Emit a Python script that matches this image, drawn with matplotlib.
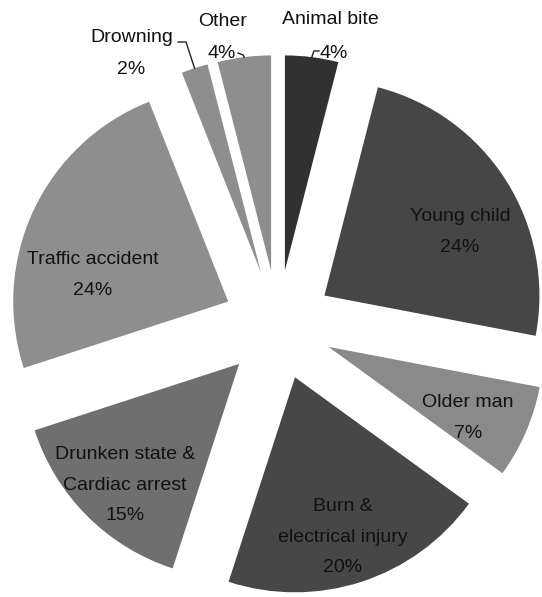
import numpy as np
import matplotlib
matplotlib.use("Agg")
import matplotlib.pyplot as plt

# ── data ──
labels = ["Animal bite", "Young child", "Older man", "Burn &\nelectrical injury",
          "Drunken state &\nCardiac arrest", "Traffic accident", "Drowning", "Other"]
values = [4, 24, 7, 20, 15, 24, 2, 4]
colors = ["#313131", "#464646", "#8a8a8a", "#474747", "#6f6f6f", "#8e8e8e", "#8e8e8e", "#8e8e8e"]

plt.rcParams['font.family'] = ['Liberation Sans', 'DejaVu Sans']
FS = 14

# pixel-like units: radius 215 px, every slice pulled out by 55 px
R, EXPL = 215, 55
fig = plt.figure(figsize=(5.42, 5.97), dpi=100)
ax = fig.add_axes([0, 0, 1, 1])
wedges, _ = ax.pie(values, colors=colors, radius=R, explode=[EXPL] * len(values),
                   startangle=90, counterclock=False, wedgeprops=dict(linewidth=0))
ax.set_xlim(-278, 264); ax.set_ylim(-272, 325)
ax.set_aspect('equal'); ax.axis('off')

pct = [f"{v}%" for v in values]

# inside labels (label text centre, relative to pie centre)
inside = {1: (182, 93), 2: (190, -93), 3: (65, -212), 4: (-153, -160), 5: (-185, 50)}
for i, (x, y) in inside.items():
    ax.text(x, y, f"{labels[i]}\n{pct[i]}", ha='center', va='center', fontsize=FS,
            linespacing=2.05, color='#111111')

def tip(i):
    w = wedges[i]
    a = np.deg2rad((w.theta1 + w.theta2) / 2)
    return w.center[0] + R * np.cos(a), w.center[1] + R * np.sin(a)

# outside labels with leader lines
ax.text(52, 306, labels[0], ha='center', va='center', fontsize=FS, color='#111111')
ax.text(42, 272, pct[0], ha='left', va='center', fontsize=FS, color='#111111')
tx, ty = tip(0)
ax.plot([41, tx + 2, tx], [274, 274, ty], color='#222222', lw=1)

ax.text(-55, 304, labels[7], ha='center', va='center', fontsize=FS, color='#111111')
ax.text(-56, 272, pct[7], ha='center', va='center', fontsize=FS, color='#111111')
tx, ty = tip(7)
ax.plot([-40, tx - 1, tx], [272, 270, ty], color='#222222', lw=1)

ax.text(-146, 288, labels[6], ha='center', va='center', fontsize=FS, color='#111111')
ax.text(-147, 256, pct[6], ha='center', va='center', fontsize=FS, color='#111111')
tx, ty = tip(6)
ax.plot([-100, -92, tx], [283, 283, ty], color='#222222', lw=1)

fig.savefig("out.png", dpi=100, facecolor='white')
